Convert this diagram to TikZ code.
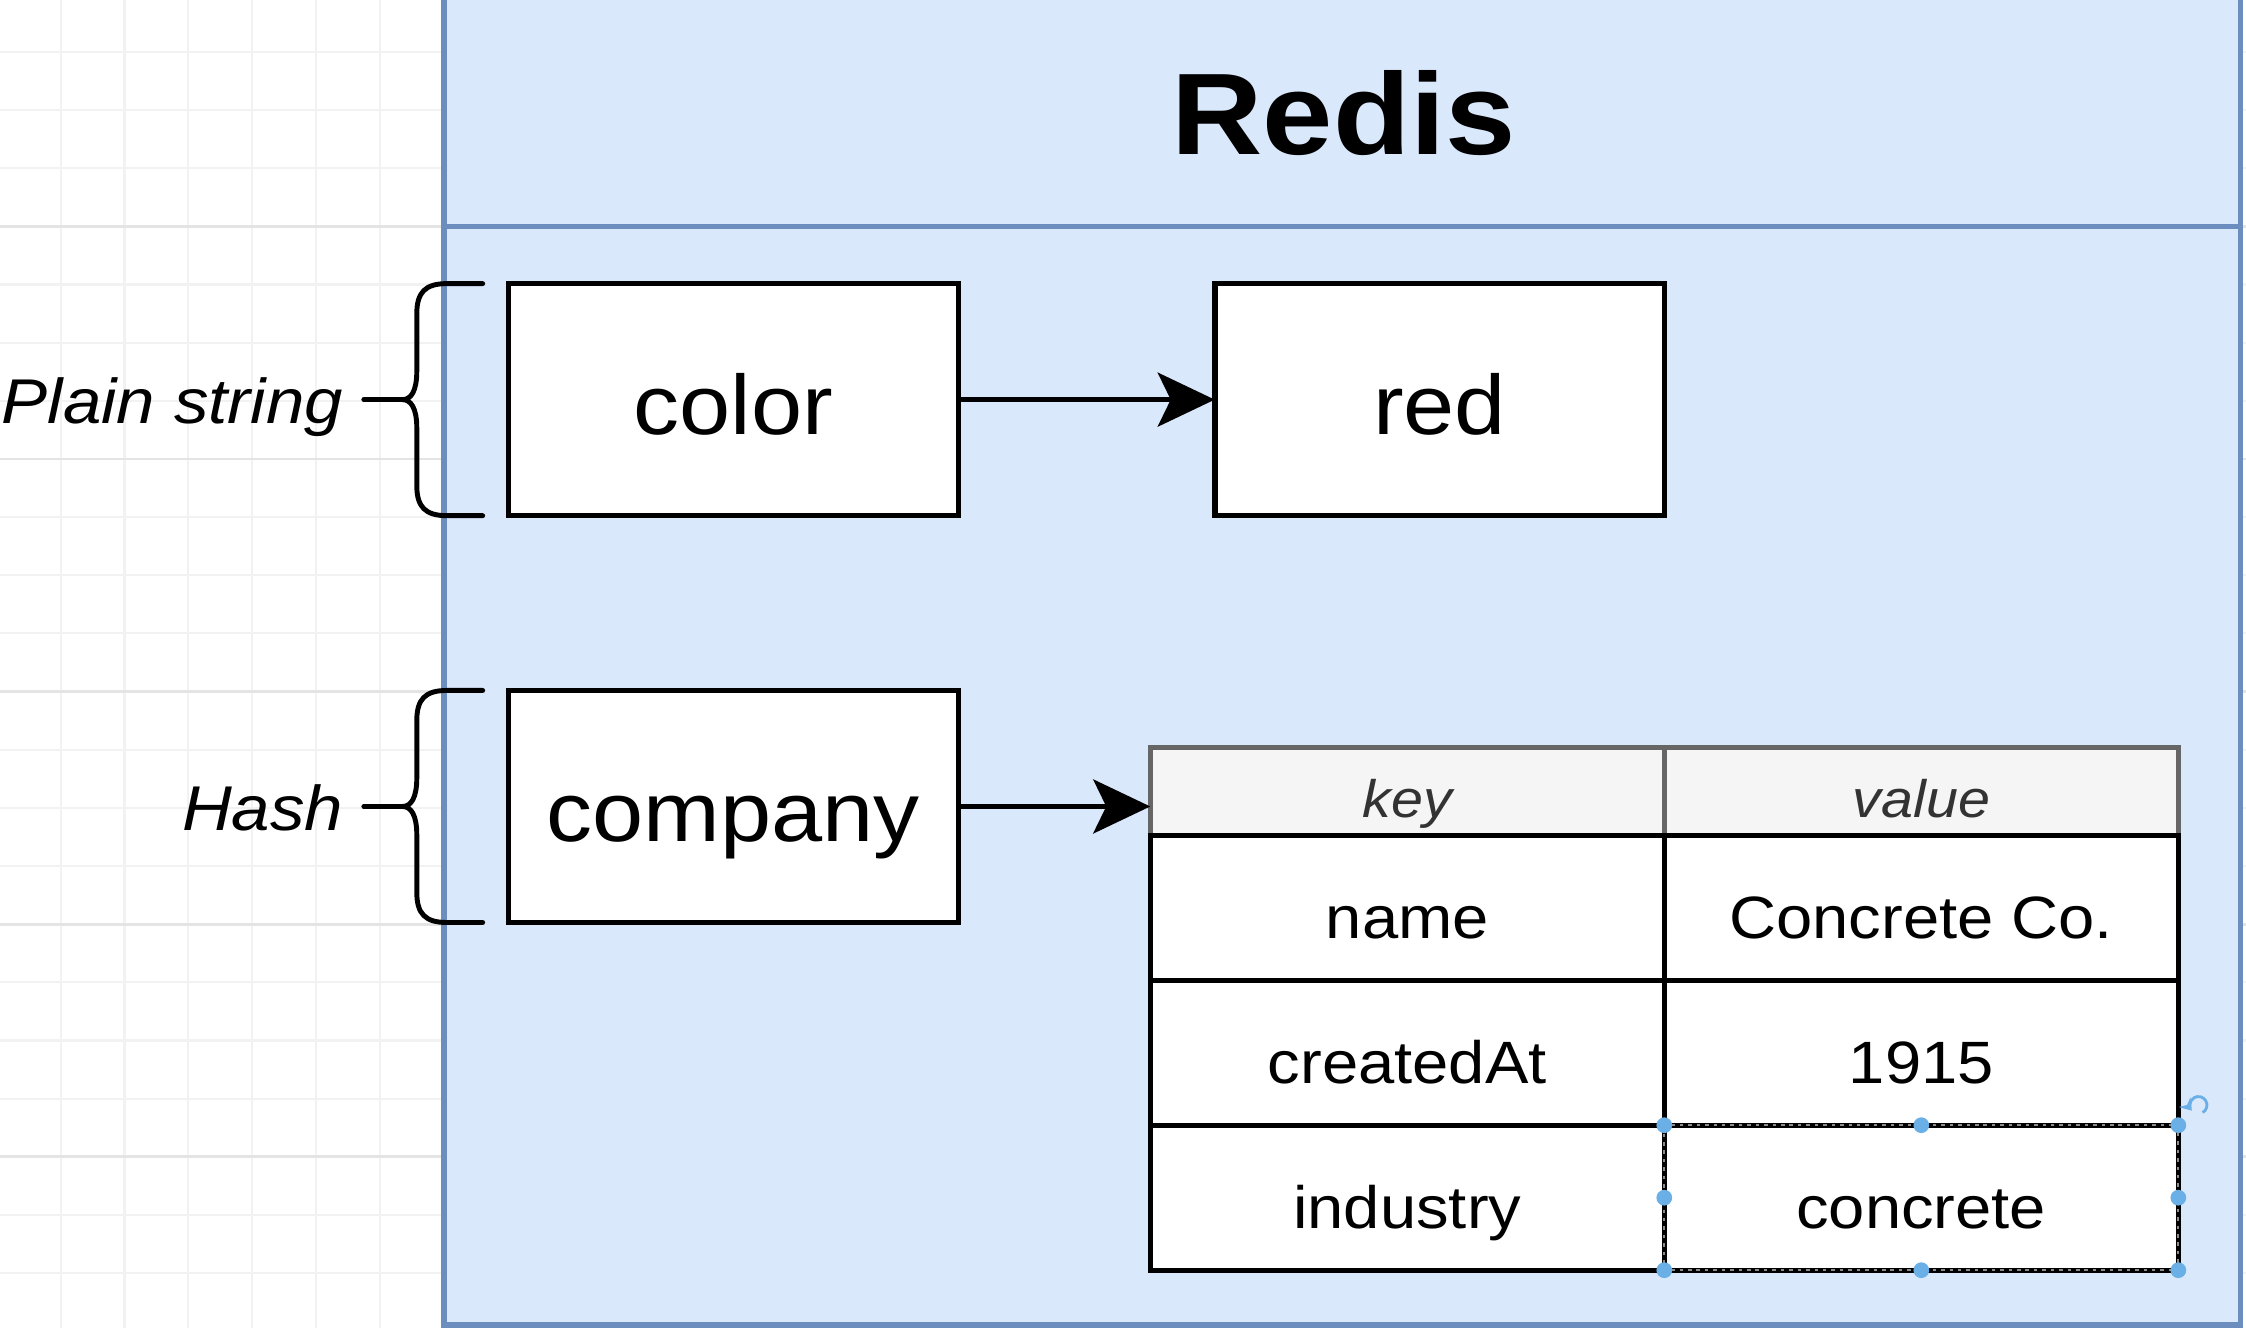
\documentclass[tikz,border=0pt]{standalone}
\usepackage{fontspec}
\setmainfont{Liberation Sans}[FakeStretch=1.09]
\usetikzlibrary{positioning, arrows.meta, calc}
\definecolor{redisfill}{HTML}{DAE8FC}
\definecolor{redisline}{HTML}{6C8EBF}
\definecolor{headfill}{HTML}{F5F5F5}
\definecolor{headline}{HTML}{666666}
\definecolor{handleblue}{HTML}{6AB0E6}
\definecolor{gridminor}{HTML}{F2F2F2}
\definecolor{gridmajor}{HTML}{E4E4E4}
\tikzset{
  keybox/.style={draw, line width=1.6pt, fill=white, minimum width=44.98mm,
    minimum height=23.2mm, inner sep=0pt, outer sep=0pt,
    font=\fontsize{24}{28}\selectfont, text height=19.7pt, text depth=0pt},
  cell/.style={draw, line width=1.5pt, fill=white, minimum width=51.4mm,
    minimum height=14.5mm, inner sep=0pt, outer sep=0pt,
    font=\fontsize{17}{20}\selectfont, text height=17.7pt, text depth=0pt},
  headcell/.style={cell, draw=headline, line width=1.3pt, fill=headfill,
    minimum height=8.74mm, text=black!80,
    font=\fontsize{15}{18}\selectfont\itshape, text height=14.7pt},
  link/.style={line width=1.3pt, -{Stealth[length=5.7mm, width=5.4mm, inset=1.3mm]}},
  bracket/.style={line width=1.4pt, line cap=round},
  brlabel/.style={font=\fontsize{18}{22}\selectfont\itshape, inner sep=0pt},
  title/.style={font=\fontsize{33}{38}\selectfont\bfseries, inner sep=0pt},
  gridline/.style={gridminor, line width=0.6pt},
  gridbold/.style={gridmajor, line width=0.8pt},
  pics/curly/.style={code={
    \coordinate (-tip) at (0,0);
    \draw[bracket] (83,-81) -- (58,-81) .. controls (43,-81) and (37,-75) .. (37,-60)
      -- (37,-20) .. controls (37,-6) and (33,0) .. (27,0)
      .. controls (33,0) and (37,6) .. (37,20) -- (37,60)
      .. controls (37,75) and (43,81) .. (58,81) -- (83,81);
    \draw[bracket] (0,0) -- (27,0);
  }},
}
\begin{document}
\begin{tikzpicture}[x=0.14324mm, y=-0.14324mm]
  \useasboundingbox (0,0) rectangle (1568,927);
  \fill[white] (0,0) rectangle (1568,927);

  % canvas grid
  \foreach \i in {0,...,5}
    \draw[gridline] ({42.3+44.6*\i},0) -- ({42.3+44.6*\i},927);
  \foreach \j in {-3,...,19}
    \draw[gridline] (0,{158+40.6*\j}) -- (1568,{158+40.6*\j});
  \foreach \j in {-1,...,4}
    \draw[gridbold] (0,{158+162.4*\j}) -- (1568,{158+162.4*\j});

  % redis container
  \draw[redisline, fill=redisfill, line width=1.5pt] (310,-10) rectangle (1564,925);
  \draw[redisline, line width=1.5pt] (310,158) -- (1564,158);
  \node[title, anchor=base] (redis) at (938,108) {Redis};

  % keys and values
  \node[keybox] (color) at (512,279) {color};
  \node[keybox, right=25.64mm of color] (red) {red};
  \node[keybox, below=17.48mm of color] (company) {company};

  % hash table
  \node[headcell, anchor=north west] (key) at ($(company.north east)+(134,40)$) {key};
  \node[headcell, right=0pt of key] (val) {value};
  \node[cell, below=0pt of key] (nkey) {name};
  \node[cell, right=0pt of nkey] (nval) {Concrete Co.};
  \node[cell, below=0pt of nkey] (ckey) {createdAt};
  \node[cell, right=0pt of ckey] (cval) {1915};
  \node[cell, below=0pt of ckey] (ikey) {industry};
  \node[cell, right=0pt of ikey] (ival) {concrete};

  % selection
  \draw[black!45, line width=0.6pt, dash pattern=on 1pt off 1.4pt]
    (ival.north west) rectangle (ival.south east);
  \foreach \a in {north west, north, north east, east, south east, south, south west, west}
    \fill[handleblue] (ival.\a) circle[radius=5.5];
  \coordinate (rot) at ($(ival.north east)+(14,-14)$);
  \draw[handleblue, line width=0.8pt, -{Stealth[length=1.1mm, width=1.5mm]}]
    ($(rot)+(60:6)$) arc[start angle=60, end angle=-220, radius=6];

  % arrows
  \draw[link] (color) -- (red);
  \draw[link] (company.east) -- (company.east -| key.west);

  % braces
  \pic (plainbr) at ($(color.west)+(-101,0)$) {curly};
  \pic (hashbr) at ($(company.west)+(-101,0)$) {curly};
  \node[brlabel, anchor=base east] (plainlbl) at ($(plainbr-tip)+(-14,17)$) {Plain string};
  \node[brlabel, anchor=base east] (hashlbl) at ($(hashbr-tip)+(-14,17)$) {Hash};

\end{tikzpicture}
\end{document}
